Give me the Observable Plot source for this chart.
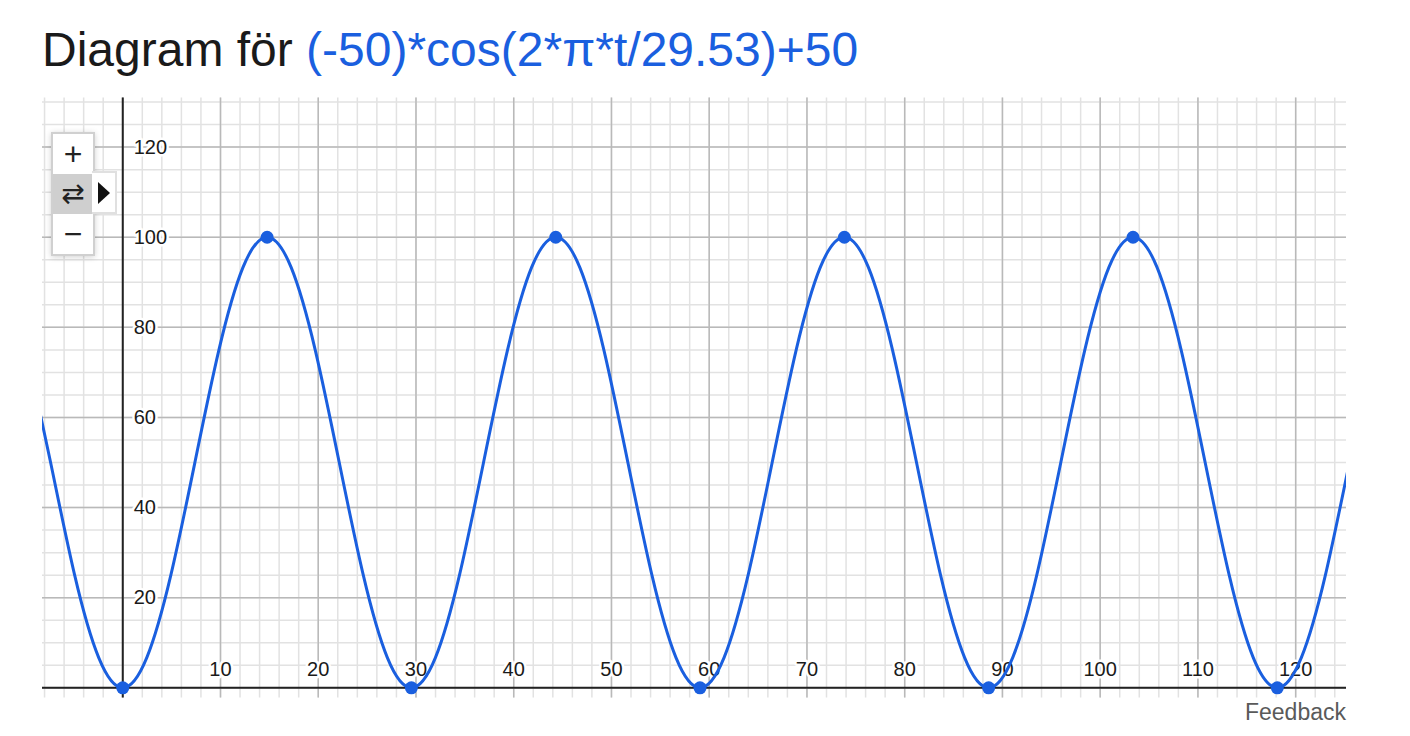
<!DOCTYPE html>
<html>
<head>
<meta charset="utf-8">
<script src="https://cdn.jsdelivr.net/npm/d3@7"></script>
<script src="https://cdn.jsdelivr.net/npm/@observablehq/plot@0.6"></script>
<style>
  html, body { margin: 0; padding: 0; background: #fff; }
  #wrap { position: relative; width: 1410px; height: 736px; font-family: "Liberation Sans", Arial, Helvetica, sans-serif; }
  #title { position: absolute; left: 42px; top: 26px; font-size: 48px; line-height: 48px; color: #1a1a1a; white-space: nowrap; }
  #title .f { color: #1a5fdf; }
  #chart { position: absolute; left: 0; top: 0; }
  #feedback { position: absolute; right: 64px; top: 698px; font-size: 23px; line-height: 28px; color: #5a5a5a; }
  #zoombox { position: absolute; left: 51px; top: 132px; width: 40px; height: 120px; border: 2px solid #d0d0d0; background: #fff; box-shadow: 0 1px 6px rgba(0,0,0,0.18); }
  #zoombox div { height: 40px; text-align: center; line-height: 40px; color: #222; }
  #zoombox .plus, #zoombox .minus { font-size: 32px; }
  #zoombox .pan { background: #cfcfcf; font-family: "DejaVu Sans", sans-serif; font-size: 28px; }
  #tri { position: absolute; left: 92px; top: 171px; width: 23px; height: 39px; border: 2px solid #e0e0e0; border-left: none; background: #fff; }
  #tri span { position: absolute; left: 6px; top: 9px; width: 0; height: 0; border-top: 11px solid transparent; border-bottom: 11px solid transparent; border-left: 12px solid #111; }
</style>
</head>
<body>
<div id="wrap">
  <div id="chart"></div>
  <div id="title">Diagram för <span class="f">(-50)*cos(2*π*t/29.53)+50</span></div>
  <div id="zoombox"><div class="plus">+</div><div class="pan">⇄</div><div class="minus">−</div></div>
  <div id="tri"><span></span></div>
  <div id="feedback">Feedback</div>
</div>
<script>
// Curve samples (t in days, value in %)
const tCurve = [-9.84, -7.38, -4.92, -2.46, 0, 2.46, 4.92, 7.38, 9.84, 12.30, 14.77, 17.23,
  19.69, 22.15, 24.61, 27.07, 29.53, 31.99, 34.45, 36.91, 39.37, 41.83, 44.30, 46.76,
  49.22, 51.68, 54.14, 56.60, 59.06, 61.52, 63.98, 66.44, 68.90, 71.36, 73.83, 76.29,
  78.75, 81.21, 83.67, 86.13, 88.59, 91.05, 93.51, 95.97, 98.43, 100.89, 103.36, 105.82,
  108.28, 110.74, 113.20, 115.66, 118.12, 120.58, 123.04, 125.50, 127.96];
const yCurve = [75, 50, 25, 6.7, 0, 6.7, 25, 50, 75, 93.3, 100, 93.3,
  75, 50, 25, 6.7, 0, 6.7, 25, 50, 75, 93.3, 100, 93.3,
  75, 50, 25, 6.7, 0, 6.7, 25, 50, 75, 93.3, 100, 93.3,
  75, 50, 25, 6.7, 0, 6.7, 25, 50, 75, 93.3, 100, 93.3,
  75, 50, 25, 6.7, 0, 6.7, 25, 50, 75];

// Highlighted extrema points
const extremaT = [0, 14.77, 29.53, 44.30, 59.06, 73.83, 88.59, 103.36, 118.12];
const extremaY = [0, 100, 0, 100, 0, 100, 0, 100, 0];

// Tick labels
const xLabels = [10, 20, 30, 40, 50, 60, 70, 80, 90, 100, 110, 120];
const yLabels = [20, 40, 60, 80, 100, 120];

// Grid positions
const xMinor = d3.range(-8, 126, 2);
const xMajor = [0, 10, 20, 30, 40, 50, 60, 70, 80, 90, 100, 110, 120];
const yMinor = d3.range(0, 131, 5);
const yMajor = [0, 20, 40, 60, 80, 100, 120];

const curve = tCurve.map((t, i) => ({t, y: yCurve[i]}));
const pts = extremaT.map((t, i) => ({t, y: extremaY[i]}));
const BLUE = "#1a5fdf";

const chart = Plot.plot({
  width: 1410,
  height: 736,
  marginLeft: 42,
  marginRight: 64,
  marginTop: 97.5,
  marginBottom: 38.5,
  x: {domain: [-8.21, 125.2], axis: null},
  y: {domain: [-2.26, 130.9], axis: null},
  marks: [
    Plot.ruleX(xMinor, {stroke: "#e2e2e2", strokeWidth: 1.5}),
    Plot.ruleY(yMinor, {stroke: "#e2e2e2", strokeWidth: 1.5}),
    Plot.ruleX(xMajor, {stroke: "#b9b9b9", strokeWidth: 1.5}),
    Plot.ruleY(yMajor, {stroke: "#b9b9b9", strokeWidth: 1.5}),
    Plot.ruleX([0], {stroke: "#222", strokeWidth: 2}),
    Plot.ruleY([0], {stroke: "#222", strokeWidth: 2}),
    Plot.text(xLabels, {x: d => d, y: 0, text: d => String(d), dy: -18, fontSize: 20, fill: "#1a1a1a", stroke: "white", strokeWidth: 5, paintOrder: "stroke", fontFamily: "Liberation Sans, Arial, sans-serif"}),
    Plot.text(yLabels, {x: 0, y: d => d, text: d => String(d), dx: 11, textAnchor: "start", fontSize: 20, fill: "#1a1a1a", stroke: "white", strokeWidth: 5, paintOrder: "stroke", fontFamily: "Liberation Sans, Arial, sans-serif"}),
    Plot.line(curve, {x: "t", y: "y", curve: "natural", stroke: BLUE, strokeWidth: 3, clip: true}),
    Plot.dot(pts, {x: "t", y: "y", r: 6.5, fill: BLUE, stroke: "none"})
  ]
});
document.getElementById("chart").appendChild(chart);
</script>
</body>
</html>
